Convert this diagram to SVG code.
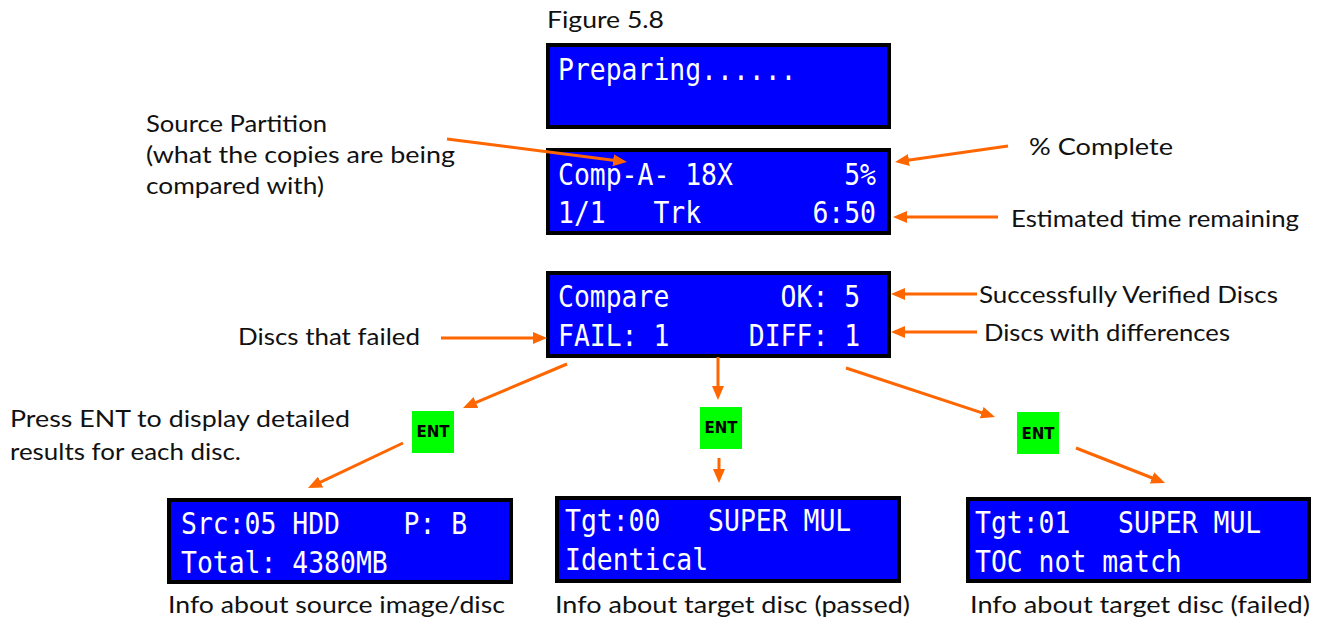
<svg xmlns="http://www.w3.org/2000/svg" width="1322" height="620" viewBox="0 0 1322 620">
<style>
.lcd{fill:#0000ff;stroke:#000;stroke-width:4}
.lt{font-family:"DejaVu Sans Mono","Liberation Mono",monospace;font-size:31px;fill:#fff}
.lbl{font-family:Lato,"Liberation Sans",sans-serif;font-size:24px;fill:#111}
.ent{fill:#00ff00}
.et{font-family:"DejaVu Sans","Liberation Sans",sans-serif;font-weight:bold;font-size:15px;fill:#000;text-anchor:middle}
.ar{stroke:#ff6600;stroke-width:3;fill:none;marker-end:url(#ah)}
</style>
<defs>
<marker id="ah" markerUnits="userSpaceOnUse" markerWidth="14" markerHeight="12" refX="10" refY="6" orient="auto">
<path d="M0,0 L14,6 L0,12 z" fill="#ff6600"/>
</marker>
</defs>
<rect width="1322" height="620" fill="#fff"/>

<text class="lbl" x="547" y="28" textLength="117" lengthAdjust="spacingAndGlyphs">Figure 5.8</text>

<g id="preparing">
<rect class="lcd" x="548" y="45" width="341" height="82"/>
<text class="lt" x="558" y="80" textLength="238.5" lengthAdjust="spacingAndGlyphs">Preparing......</text>
</g>

<g id="progress">
<rect class="lcd" x="548" y="150" width="341" height="83"/>
<text class="lt" x="558" y="185" textLength="174.9" lengthAdjust="spacingAndGlyphs">Comp-A- 18X</text>
<text class="lt" x="844.2" y="185" textLength="31.8" lengthAdjust="spacingAndGlyphs">5%</text>
<text class="lt" x="558" y="223" textLength="47.7" lengthAdjust="spacingAndGlyphs">1/1</text>
<text class="lt" x="653.4" y="223" textLength="47.7" lengthAdjust="spacingAndGlyphs">Trk</text>
<text class="lt" x="812.4" y="223" textLength="63.6" lengthAdjust="spacingAndGlyphs">6:50</text>
</g>

<g id="compare">
<rect class="lcd" x="548" y="273" width="341" height="83"/>
<text class="lt" x="558" y="307" textLength="111.3" lengthAdjust="spacingAndGlyphs">Compare</text>
<text class="lt" x="780.6" y="307" textLength="79.5" lengthAdjust="spacingAndGlyphs">OK: 5</text>
<text class="lt" x="558" y="346" textLength="111.3" lengthAdjust="spacingAndGlyphs">FAIL: 1</text>
<text class="lt" x="748.8" y="346" textLength="111.3" lengthAdjust="spacingAndGlyphs">DIFF: 1</text>
</g>

<g id="src">
<rect class="lcd" x="169" y="500" width="342" height="82"/>
<text class="lt" x="181" y="534" textLength="159" lengthAdjust="spacingAndGlyphs">Src:05 HDD</text>
<text class="lt" x="403.6" y="534" textLength="63.6" lengthAdjust="spacingAndGlyphs">P: B</text>
<text class="lt" x="181" y="573" textLength="206.7" lengthAdjust="spacingAndGlyphs">Total: 4380MB</text>
</g>

<g id="tgt00">
<rect class="lcd" x="557" y="498" width="342" height="83"/>
<text class="lt" x="565" y="531" textLength="95.4" lengthAdjust="spacingAndGlyphs">Tgt:00</text>
<text class="lt" x="708.1" y="531" textLength="143.1" lengthAdjust="spacingAndGlyphs">SUPER MUL</text>
<text class="lt" x="565" y="570" textLength="143.1" lengthAdjust="spacingAndGlyphs">Identical</text>
</g>

<g id="tgt01">
<rect class="lcd" x="968" y="499" width="341" height="82"/>
<text class="lt" x="975" y="533" textLength="95.4" lengthAdjust="spacingAndGlyphs">Tgt:01</text>
<text class="lt" x="1118.1" y="533" textLength="143.1" lengthAdjust="spacingAndGlyphs">SUPER MUL</text>
<text class="lt" x="975" y="572" textLength="206.7" lengthAdjust="spacingAndGlyphs">TOC not match</text>
</g>

<g id="ent1"><rect class="ent" x="412" y="411" width="42" height="42"/><text class="et" x="433" y="437">ENT</text></g>
<g id="ent2"><rect class="ent" x="700" y="407" width="42" height="42"/><text class="et" x="721" y="433">ENT</text></g>
<g id="ent3"><rect class="ent" x="1017" y="412" width="42" height="42"/><text class="et" x="1038" y="439">ENT</text></g>

<g id="labels">
<text class="lbl" x="146" y="132" textLength="181" lengthAdjust="spacingAndGlyphs">Source Partition</text>
<text class="lbl" x="146" y="163" textLength="309" lengthAdjust="spacingAndGlyphs">(what the copies are being</text>
<text class="lbl" x="146" y="194" textLength="178" lengthAdjust="spacingAndGlyphs">compared with)</text>
<text class="lbl" x="1029" y="155" textLength="144" lengthAdjust="spacingAndGlyphs">% Complete</text>
<text class="lbl" x="1011" y="227" textLength="288" lengthAdjust="spacingAndGlyphs">Estimated time remaining</text>
<text class="lbl" x="979" y="303" textLength="299" lengthAdjust="spacingAndGlyphs">Successfully Verified Discs</text>
<text class="lbl" x="984" y="341" textLength="246" lengthAdjust="spacingAndGlyphs">Discs with differences</text>
<text class="lbl" x="238" y="345" textLength="182" lengthAdjust="spacingAndGlyphs">Discs that failed</text>
<text class="lbl" x="10" y="427" textLength="340" lengthAdjust="spacingAndGlyphs">Press ENT to display detailed</text>
<text class="lbl" x="10" y="460" textLength="231" lengthAdjust="spacingAndGlyphs">results for each disc.</text>
<text class="lbl" x="168" y="613" textLength="337" lengthAdjust="spacingAndGlyphs">Info about source image/disc</text>
<text class="lbl" x="555" y="613" textLength="355" lengthAdjust="spacingAndGlyphs">Info about target disc (passed)</text>
<text class="lbl" x="970" y="613" textLength="340" lengthAdjust="spacingAndGlyphs">Info about target disc (failed)</text>
</g>

<g id="connectors">
<line class="ar" x1="447" y1="139" x2="623" y2="161.5"/>
<line class="ar" x1="1008" y1="146" x2="899" y2="161.4"/>
<line class="ar" x1="998" y1="217" x2="897" y2="217"/>
<line class="ar" x1="977" y1="294" x2="895" y2="294"/>
<line class="ar" x1="977" y1="332" x2="895" y2="332"/>
<line class="ar" x1="441" y1="338" x2="543" y2="338"/>
<line class="ar" x1="567" y1="364" x2="466.7" y2="406.4"/>
<line class="ar" x1="718" y1="357" x2="718" y2="396"/>
<line class="ar" x1="846" y1="368" x2="991.2" y2="415.8"/>
<line class="ar" x1="403" y1="443" x2="311.6" y2="486.3"/>
<line class="ar" x1="719" y1="458" x2="719" y2="479"/>
<line class="ar" x1="1076" y1="448" x2="1161.3" y2="481.5"/>
</g>
</svg>
